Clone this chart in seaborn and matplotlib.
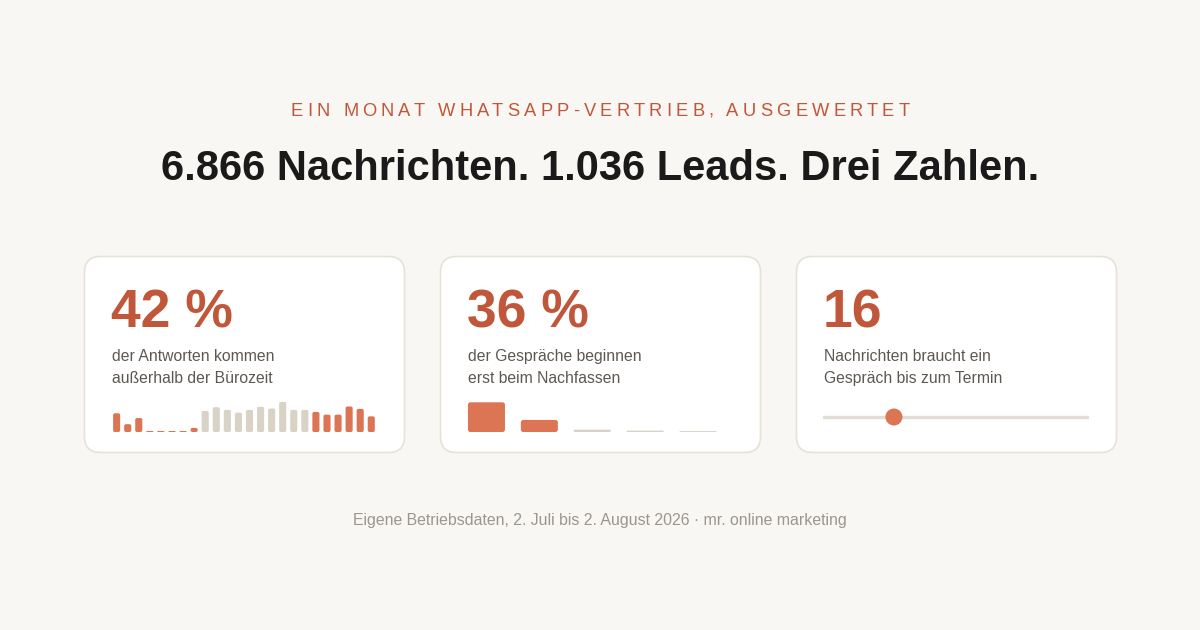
import matplotlib
matplotlib.use("Agg")
import matplotlib.pyplot as plt
import seaborn as sns
import pandas as pd
from matplotlib.patches import FancyBboxPatch

# ---------------- data ----------------
kicker = "EIN MONAT WHATSAPP-VERTRIEB, AUSGEWERTET"
title = "6.866 Nachrichten. 1.036 Leads. Drei Zahlen."
footer = "Eigene Betriebsdaten, 2. Juli bis 2. August 2026 · mr. online marketing"

card_values = ["42 %", "36 %", "16"]
card_lines = [
    ["der Antworten kommen", "außerhalb der Bürozeit"],
    ["der Gespräche beginnen", "erst beim Nachfassen"],
    ["Nachrichten braucht ein", "Gespräch bis zum Termin"],
]

hours = list(range(24))
replies_per_hour = [55, 23, 41, 3, 3, 3, 3, 12, 62, 73, 65, 57, 65, 74, 69, 89,
                    65, 65, 59, 51, 51, 75, 68, 46]
hour_zone = ["außerhalb"] * 8 + ["Bürozeit"] * 10 + ["außerhalb"] * 6

starts = ["Erstnachricht", "1. Nachfassen", "2. Nachfassen", "3. Nachfassen", "4. Nachfassen"]
start_share = [64, 26, 5, 3, 2]
start_group = ["hervor", "hervor", "rest", "rest", "rest"]

messages_to_meeting = 16
scale_min, scale_max = 0, 60

# ---------------- style ----------------
BG = "#f9f7f3"
ACCENT = "#c1573a"
BAR = "#db7553"
GREY = "#d8d2c7"
TRACK = "#e2ddd4"
TEXT = "#1a1a1a"
SUB = "#5d5853"
FOOT = "#9b968e"
BORDER = "#e7e2d9"

sns.set_theme(style="white")
plt.rcParams['font.family'] = ['Liberation Sans', 'DejaVu Sans']

W, H = 1200, 630
fig = plt.figure(figsize=(12, 6.3), dpi=100, facecolor=BG)
bg = fig.add_axes([0, 0, 1, 1])
bg.set_xlim(0, W)
bg.set_ylim(H, 0)
bg.axis("off")
bg.set_facecolor(BG)
renderer = fig.canvas.get_renderer()


def text_width(s, **kw):
    t = bg.text(0, 0, s, **kw)
    w = t.get_window_extent(renderer).width
    t.remove()
    return w


def spaced_text(s, xc, y, target_w, **kw):
    natural = text_width(s, **kw)
    sp = (target_w - natural) / (len(s) - 1)
    x0 = xc - target_w / 2
    for i, ch in enumerate(s):
        if ch == " ":
            continue
        left = text_width(s[:i + 1], **kw) - text_width(ch, **kw)
        bg.text(x0 + left + i * sp, y, ch, ha="left", va="baseline", **kw)


# kicker + title
spaced_text(kicker, 600, 116, 619, fontsize=13.2, color=ACCENT)
bg.text(600, 180, title, ha="center", va="baseline", fontsize=30,
        weight="bold", color=TEXT)

# cards
card_x = [84, 440, 796]
for x0, val, lines in zip(card_x, card_values, card_lines):
    bg.add_patch(FancyBboxPatch((x0 + 0.5, 256.5), 320, 196,
                                boxstyle="round,pad=0,rounding_size=16",
                                fc="white", ec=BORDER, lw=1.2))
    bg.text(x0 + 27, 327.5, val, ha="left", va="baseline", fontsize=38.5,
            weight="bold", color=ACCENT)
    bg.text(x0 + 28, 361, lines[0], ha="left", va="baseline", fontsize=11.3,
            color=SUB)
    bg.text(x0 + 28, 383, lines[1], ha="left", va="baseline", fontsize=11.3,
            color=SUB)

bg.text(600, 524.5, footer, ha="center", va="baseline", fontsize=11.4, color=FOOT)


def px_axes(left, top, right, bottom):
    ax = fig.add_axes([left / W, 1 - bottom / H, (right - left) / W, (bottom - top) / H])
    ax.set_facecolor("none")
    return ax


def round_bars(ax, radius_px=1.8):
    """Give the bars seaborn drew softly rounded corners (same geometry)."""
    fig.canvas.draw()
    for p in list(ax.patches):
        x, y, w, h = p.get_x(), p.get_y(), p.get_width(), p.get_height()
        (dx0, dy0), (dx1, dy1) = ax.transData.transform([(x, y), (x + w, y + h)])
        wpx, hpx = abs(dx1 - dx0), abs(dy1 - dy0)
        xupp = w / wpx
        yupp = h / hpx if hpx > 0 else 1
        r = min(radius_px, wpx / 2, hpx / 2)
        fb = FancyBboxPatch((x, y), w, h,
                            boxstyle=f"round,pad=0,rounding_size={r * xupp}",
                            mutation_aspect=yupp / xupp,
                            fc=p.get_facecolor(), ec="none", lw=0, snap=False)
        p.remove()
        ax.add_patch(fb)


# card 1: replies per hour
ax1 = px_axes(111.1, 401.7, 376.8, 432)
df1 = pd.DataFrame({"hour": hours, "value": replies_per_hour, "zone": hour_zone})
sns.barplot(data=df1, x="hour", y="value", hue="zone",
            palette={"außerhalb": BAR, "Bürozeit": GREY}, dodge=False,
            width=0.64, saturation=1, legend=False, ax=ax1)
ax1.set_ylim(0, 89)
ax1.set_xlim(-0.5, 23.5)
ax1.axis("off")
round_bars(ax1)

# card 2: where conversations start
ax2 = px_axes(460, 402.3, 724.5, 432)
df2 = pd.DataFrame({"stage": starts, "share": start_share, "group": start_group})
sns.barplot(data=df2, x="stage", y="share", hue="group",
            palette={"hervor": BAR, "rest": GREY}, dodge=False,
            width=0.70, saturation=1, legend=False, ax=ax2)
ax2.set_ylim(0, 64)
ax2.set_xlim(-0.5, 4.5)
ax2.axis("off")
round_bars(ax2, radius_px=2.5)

# card 3: messages to appointment
ax3 = px_axes(823, 402, 1089, 432)
ax3.set_xlim(scale_min, scale_max)
ax3.set_ylim(-1, 1)
ax3.axhline(0, color=TRACK, lw=2.4, solid_capstyle="round", zorder=1)
sns.scatterplot(x=[messages_to_meeting], y=[0], s=150, color=BAR,
                edgecolor="none", ax=ax3, zorder=3, clip_on=False)
ax3.set_xlim(scale_min, scale_max)
ax3.set_ylim(-1, 1)
ax3.axis("off")

fig.savefig("out.png", dpi=100, facecolor=BG)
